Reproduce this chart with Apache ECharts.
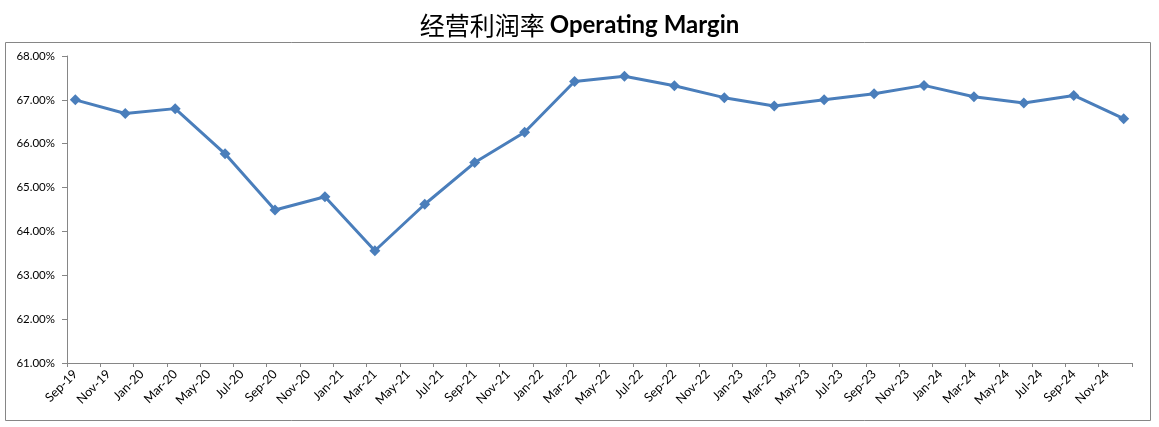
<!DOCTYPE html>
<html><head><meta charset="utf-8">
<script src="https://cdn.jsdelivr.net/npm/echarts@6/dist/echarts.min.js"></script>
<style>html,body{margin:0;padding:0;background:#fff}#c{width:1159px;height:427px}</style>
</head><body><div id="c"></div>
<script>
// Monthly category axis (Sep-19 .. Dec-24)
const months = ['Sep-19','Oct-19','Nov-19','Dec-19','Jan-20','Feb-20','Mar-20','Apr-20','May-20','Jun-20','Jul-20','Aug-20','Sep-20','Oct-20','Nov-20','Dec-20',
'Jan-21','Feb-21','Mar-21','Apr-21','May-21','Jun-21','Jul-21','Aug-21','Sep-21','Oct-21','Nov-21','Dec-21',
'Jan-22','Feb-22','Mar-22','Apr-22','May-22','Jun-22','Jul-22','Aug-22','Sep-22','Oct-22','Nov-22','Dec-22',
'Jan-23','Feb-23','Mar-23','Apr-23','May-23','Jun-23','Jul-23','Aug-23','Sep-23','Oct-23','Nov-23','Dec-23',
'Jan-24','Feb-24','Mar-24','Apr-24','May-24','Jun-24','Jul-24','Aug-24','Sep-24','Oct-24','Nov-24','Dec-24'];
// Quarterly observations
const quarters = ['Sep-19','Dec-19','Mar-20','Jun-20','Sep-20','Dec-20','Mar-21','Jun-21','Sep-21','Dec-21','Mar-22',
'Jun-22','Sep-22','Dec-22','Mar-23','Jun-23','Sep-23','Dec-23','Mar-24','Jun-24','Sep-24','Dec-24'];
const operatingMargin = [67.00,66.69,66.80,65.77,64.49,64.79,63.56,64.62,65.57,66.26,67.42,
67.54,67.32,67.05,66.86,67.00,67.14,67.33,67.07,66.93,67.10,66.57];
const yTicks = [61,62,63,64,65,66,67,68];

const seriesData = months.map(m => { const i = quarters.indexOf(m); return i >= 0 ? operatingMargin[i] : null; });

const chart = echarts.init(document.getElementById('c'));
chart.setOption({
  animation: false,
  backgroundColor: '#fff',
  title: {
    text: '{cn|经营利润率} {en|Operating Margin}',
    left: 'center', top: 8,
    textStyle: { rich: {
      cn: { fontFamily: 'Noto Sans CJK SC', fontSize: 25, fontWeight: 'normal', color: '#000' },
      en: { fontFamily: 'Lato', fontSize: 24, fontWeight: 'bold', color: '#000' }
    }}
  },
  graphic: [{ type: 'rect', shape: { x: 5.5, y: 42.5, width: 1145, height: 378 }, style: { fill: 'none', stroke: '#868686', lineWidth: 1 }, silent: true }],
  grid: { left: 67, right: 27, top: 56, bottom: 64 },
  xAxis: {
    type: 'category', data: months, boundaryGap: true,
    axisLine: { lineStyle: { color: '#868686', width: 1 } },
    axisTick: { show: true, interval: 1, length: 4, lineStyle: { color: '#868686' } },
    axisLabel: { interval: 1, rotate: 45, fontFamily: 'Lato', fontSize: 12.5, color: '#000', margin: 9 },
    splitLine: { show: false }
  },
  yAxis: {
    type: 'value', min: yTicks[0], max: yTicks[yTicks.length-1], interval: 1,
    axisLine: { show: true, lineStyle: { color: '#868686', width: 1 } },
    axisTick: { show: true, length: 5, lineStyle: { color: '#868686' } },
    axisLabel: { formatter: v => v.toFixed(2) + '%', fontFamily: 'Lato', fontSize: 11.5, color: '#000', margin: 12 },
    splitLine: { show: false }
  },
  series: [{
    type: 'line', data: seriesData, connectNulls: true,
    symbol: 'diamond', symbolSize: 11,
    lineStyle: { color: '#4a7ebb', width: 3 },
    itemStyle: { color: '#4a7ebb' }
  }]
});
</script></body></html>
